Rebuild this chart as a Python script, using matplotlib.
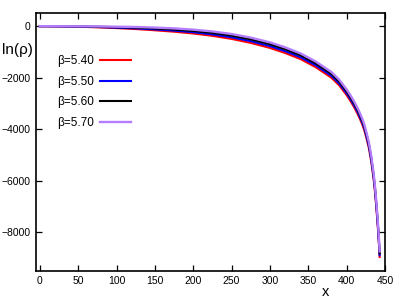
import matplotlib
matplotlib.use("Agg")
import matplotlib.pyplot as plt

x = [0, 25, 50, 75, 100, 125, 150, 175, 200, 225, 250, 275, 300, 320, 340, 360,
     380, 390, 400, 405, 410, 415, 420, 423, 426, 429, 432, 435, 437, 439, 441, 442, 443]
rho_540 = [0, -10, -22, -45, -75, -112, -160, -215, -285, -375, -495, -650, -845, -1045,
           -1280, -1600, -2000, -2290, -2680, -2910, -3160, -3450, -3790, -4040, -4370,
           -4740, -5250, -5900, -6450, -7150, -7950, -8420, -8970]
rho_550 = [0, -7, -16, -33, -57, -86, -125, -173, -235, -319, -432, -582, -774, -972,
           -1207, -1527, -1927, -2217, -2607, -2837, -3087, -3377, -3717, -3967, -4297,
           -4667, -5177, -5827, -6377, -7077, -7877, -8347, -8897]
rho_560 = [0, -5, -10, -22, -38, -58, -90, -129, -185, -261, -368, -513, -701, -898,
           -1133, -1453, -1853, -2143, -2533, -2763, -3013, -3303, -3643, -3893, -4223,
           -4593, -5103, -5753, -6303, -7003, -7803, -8273, -8823]
rho_570 = [0, -2, -4, -10, -20, -32, -55, -87, -135, -205, -305, -445, -630, -825,
           -1060, -1380, -1780, -2070, -2460, -2690, -2940, -3230, -3570, -3820, -4150,
           -4520, -5030, -5680, -6230, -6930, -7730, -8200, -8750]
labels = ["β=5.40", "β=5.50", "β=5.60", "β=5.70"]
colors = ["#ff0000", "#0000ff", "#000000", "#b47cff"]
xticks = [0, 50, 100, 150, 200, 250, 300, 350, 400, 450]
yticks = [0, -2000, -4000, -6000, -8000]

plt.rcParams['font.family'] = ['Liberation Sans', 'DejaVu Sans']
fig = plt.figure(figsize=(4.03, 3.02), dpi=100)
ax = fig.add_axes([36/403, 1-270.7/302, (385-36)/403, (270.7-13.3)/302])

series = [rho_540, rho_550, rho_560, rho_570]
widths = [1.5, 1.5, 1.5, 1.7]
for ys, lab, c, w in zip(series, labels, colors, widths):
    ax.plot(x, ys, color=c, lw=w, label=lab)

ax.set_xlim(-5, 450)
ax.set_ylim(-9500, 500)
ax.set_xticks(xticks)
ax.set_yticks(yticks)
ax.tick_params(direction='in', length=4.5, width=0.9, top=True, right=True,
               labelsize=7.5, pad=4)
for s in ax.spines.values():
    s.set_linewidth(1.2)

fig.text(17/403, 1-50/302, "ln(ρ)", fontsize=11, ha='center', va='center')
fig.text(326/403, 1-292/302, "x", fontsize=10.5, ha='center', va='center')

leg = ax.legend(loc='upper left', bbox_to_anchor=(0.047, 0.855), frameon=False,
                fontsize=8.5, markerfirst=False, handlelength=2.6,
                labelspacing=0.72, handletextpad=0.5, borderaxespad=0)

fig.savefig("out.png", dpi=100)
